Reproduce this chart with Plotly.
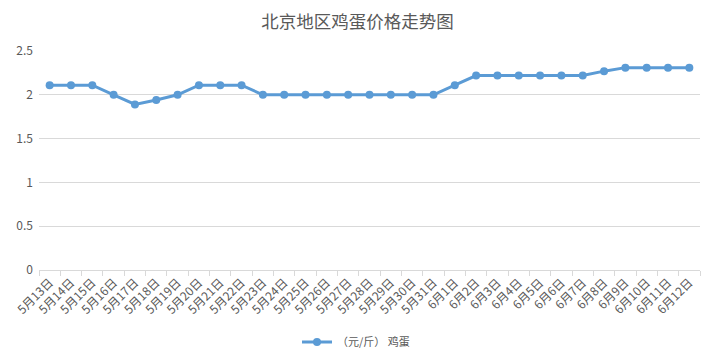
import plotly.graph_objects as go

dates = ["5月13日", "5月14日", "5月15日", "5月16日", "5月17日", "5月18日", "5月19日",
         "5月20日", "5月21日", "5月22日", "5月23日", "5月24日", "5月25日", "5月26日",
         "5月27日", "5月28日", "5月29日", "5月30日", "5月31日", "6月1日", "6月2日",
         "6月3日", "6月4日", "6月5日", "6月6日", "6月7日", "6月8日", "6月9日",
         "6月10日", "6月11日", "6月12日"]
prices = [2.11, 2.11, 2.11, 2.0, 1.89, 1.94, 2.0,
          2.11, 2.11, 2.11, 2.0, 2.0, 2.0, 2.0,
          2.0, 2.0, 2.0, 2.0, 2.0, 2.11, 2.22,
          2.22, 2.22, 2.22, 2.22, 2.22, 2.27, 2.31,
          2.31, 2.31, 2.31]
series_name = "（元/斤） 鸡蛋"
y_ticks = [0, 0.5, 1, 1.5, 2, 2.5]
y_tick_labels = ["0", "0.5", "1", "1.5", "2", "2.5"]

FONT = "Noto Sans CJK SC, Microsoft YaHei, sans-serif"
GREY = "#595959"

W, H = 716, 362
# the page body adds an 8px offset; positions below are in figure coordinates
L, R, T, B = 31, 692, 43, 262

fig = go.Figure()
fig.add_trace(go.Scatter(
    x=dates, y=prices, name=series_name, mode="lines+markers",
    line=dict(color="#5B9BD5", width=3),
    marker=dict(color="#5B9BD5", size=8),
))

fig.update_layout(
    width=W, height=H,
    margin=dict(l=L, r=W - R, t=T, b=H - B, autoexpand=False),
    paper_bgcolor="white", plot_bgcolor="white",
    font=dict(family=FONT, color=GREY, size=12),
    title=dict(text="北京地区鸡蛋价格走势图", x=349.5 / W, xanchor="center",
               y=1 - 14 / H, yanchor="middle", yref="container",
               font=dict(size=17.5, color=GREY, family=FONT)),
    showlegend=True,
    legend=dict(orientation="h", x=(348 - L) / (R - L), xanchor="center", yref="container",
                y=1 - 334 / H, yanchor="middle", itemwidth=30,
                font=dict(size=11, color=GREY)),
    xaxis=dict(type="category", range=[-0.5, len(dates) - 0.5], tickangle=-45,
               showgrid=False, automargin=False,
               showline=True, linecolor="#D9D9D9", linewidth=1,
               ticks="outside", tickson="boundaries", ticklen=5, tickcolor="#D9D9D9",
               tickfont=dict(size=12, color=GREY)),
    yaxis=dict(range=[0, 2.5], tickvals=y_ticks, ticktext=y_tick_labels, automargin=False,
               showgrid=True, gridcolor="#D9D9D9", gridwidth=1,
               zeroline=False, showline=False, ticks="", ticklabelstandoff=5,
               tickfont=dict(size=12, color=GREY)),
)

fig.write_html("out.html")
